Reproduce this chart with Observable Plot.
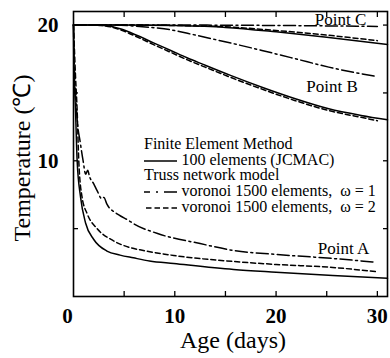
<!DOCTYPE html>
<html>
<head>
<meta charset="utf-8">
<script src="https://cdn.jsdelivr.net/npm/d3@7"></script>
<script src="https://cdn.jsdelivr.net/npm/@observablehq/plot@0.6"></script>
<style>
  html, body { margin: 0; padding: 0; background: white; }
  #wrap { position: relative; width: 390px; height: 358px; font-family: "Times New Roman", "Liberation Serif", Times, serif; }
  .lg { position: absolute; font-size: 16px; line-height: 16px; white-space: pre; color: black; font-family: "Times New Roman", "Liberation Serif", Times, serif; }
  .sw { position: absolute; }
  svg text { font-family: "Times New Roman", "Liberation Serif", Times, serif; }
</style>
</head>
<body>
<div id="wrap"></div>
<script>
// ---- data: [age (days), temperature (°C)] ----
const pointA_FEM = [[0,20],[0.03,17.4],[0.2,13.7],[0.36,10],[0.7,7.3],[1.2,5.4],[2.0,4.2],[3.3,3.35],[4.6,3.05],[5.9,2.85],[7.5,2.62],[9.9,2.43],[15.8,1.99],[20,1.79],[25.6,1.55],[31,1.35]];
const pointA_w2  = [[0,20],[0.2,16.2],[0.36,13.7],[0.52,10],[0.85,7.3],[1.35,6.1],[2.33,5.0],[3.95,4.1],[5.6,3.6],[6.9,3.39],[9.9,3.02],[15.8,2.58],[20,2.36],[25.6,2.14],[30,1.82]];
const pointA_w1  = [[0,20],[0.03,18.6],[0.3,13.7],[0.7,11.2],[0.95,10],[1.2,9.0],[1.4,9.3],[1.6,8.8],[2.0,8.3],[2.33,7.8],[2.8,7.2],[3.0,7.3],[3.3,6.8],[4.15,6.17],[4.6,5.95],[5.45,5.6],[5.9,5.38],[8.3,4.64],[12.5,3.9],[15.8,3.39],[20,3.1],[25.6,2.8],[29.8,2.53]];

const pointB_FEM = [[0,20],[2,20],[3.3,19.95],[4.6,19.73],[6.3,19.23],[7.9,18.69],[9.6,18.13],[11.2,17.59],[12.8,17.1],[15.5,16.29],[18.6,15.42],[21.9,14.57],[25.2,13.83],[28.4,13.34],[31,13.02]];
const pointB_w2  = [[0,20],[2,20],[3.2,19.93],[4.6,19.66],[6.3,19.12],[7.9,18.56],[9.6,17.99],[11.2,17.45],[12.8,16.96],[15.5,16.15],[18.6,15.28],[21.9,14.43],[25.2,13.7],[28.4,13.2],[30,12.95]];
const pointB_w1  = [[0,20],[4,20],[6,19.93],[8,19.8],[9.6,19.65],[11.8,19.3],[14.5,18.85],[18.6,18.13],[21.9,17.52],[25.2,16.9],[30,16.2]];

const pointC_FEM = [[0,20],[5,20],[10,19.96],[15,19.83],[20,19.5],[25,19.1],[31,18.57]];
const pointC_w2  = [[0,20],[5,20],[10,19.97],[15,19.87],[20,19.6],[25,19.26],[30,18.85]];
const pointC_w1  = [[0,20],[10,20],[20,19.97],[30,19.9]];

const xLabelTicks = [10, 20, 30];
const xZeroTick = [0];
const yLabelTicks = [10, 20];
const xMinorTicks = [5, 10, 15, 20, 25, 30];
const yMinorTicks = [5, 10, 15, 20];

const pointLabels = ["Point A", "Point B", "Point C"];
const xTitle = "Age (days)";
const yTitle = "Temperature (℃)";
const legendHeaders = ["Finite Element Method", "Truss network model"];
const legendItems = ["100 elements (JCMAC)", "voronoi 1500 elements,  ω = 1", "voronoi 1500 elements,  ω = 2"];

// ---- styles ----
const SOLID = null, DASH = "5,3", DASHDOT = "12,3.5,2,3.5";
const lineOpts = (dash) => ({x: d => d[0], y: d => d[1], curve: "monotone-x", stroke: "black", strokeWidth: 1.5, strokeDasharray: dash});
const font = "Times New Roman, Liberation Serif, Times, serif";

const chart = Plot.plot({
  width: 390, height: 358,
  marginLeft: 73, marginRight: 3, marginTop: 11, marginBottom: 62,
  x: {domain: [0, 31]},
  y: {domain: [0, 21]},
  style: {fontFamily: font, background: "white", color: "black", overflow: "visible"},
  marks: [
    Plot.line(pointC_w1, lineOpts(DASHDOT)),
    Plot.line(pointC_w2, lineOpts(DASH)),
    Plot.line(pointC_FEM, lineOpts(SOLID)),
    Plot.line(pointB_w1, lineOpts(DASHDOT)),
    Plot.line(pointB_w2, lineOpts(DASH)),
    Plot.line(pointB_FEM, lineOpts(SOLID)),
    Plot.line(pointA_w1, lineOpts(DASHDOT)),
    Plot.line(pointA_w2, lineOpts(DASH)),
    Plot.line(pointA_FEM, lineOpts(SOLID)),
    Plot.frame({stroke: "black", strokeWidth: 1.6}),
    Plot.axisX(xMinorTicks, {anchor: "bottom", tickSize: -5, tickFormat: () => "", label: null, strokeWidth: 1.3}),
    Plot.axisX(xMinorTicks, {anchor: "top", tickSize: -5, tickFormat: () => "", label: null, strokeWidth: 1.3}),
    Plot.axisY(yMinorTicks, {anchor: "left", tickSize: -5, tickFormat: () => "", label: null, strokeWidth: 1.3}),
    Plot.axisY(yMinorTicks, {anchor: "right", tickSize: -5, tickFormat: () => "", label: null, strokeWidth: 1.3}),
    Plot.axisX(xLabelTicks, {anchor: "bottom", tickSize: 0, tickPadding: 12, fontSize: 21, fontWeight: "bold", label: null, tickFormat: d => String(d)}),
    Plot.axisX(xZeroTick, {anchor: "bottom", tickSize: 0, tickPadding: 12, fontSize: 21, fontWeight: "bold", label: null, dx: -6, tickFormat: d => String(d)}),
    Plot.axisY(yLabelTicks, {anchor: "left", tickSize: 0, tickPadding: 15, fontSize: 21, fontWeight: "bold", label: null, tickFormat: d => String(d)}),
    Plot.text([pointLabels[2]], {text: d => d, frameAnchor: "top-left", dx: 267, dy: 8, textAnchor: "middle", lineAnchor: "middle", fontSize: 17}),
    Plot.text([pointLabels[1]], {text: d => d, frameAnchor: "top-left", dx: 258.5, dy: 75, textAnchor: "middle", lineAnchor: "middle", fontSize: 17}),
    Plot.text([pointLabels[0]], {text: d => d, frameAnchor: "top-left", dx: 270, dy: 237, textAnchor: "middle", lineAnchor: "middle", fontSize: 17}),
    Plot.text([xTitle], {text: d => d, frameAnchor: "bottom", dx: 2.5, dy: 44, textAnchor: "middle", lineAnchor: "middle", fontSize: 24}),
    Plot.text([yTitle], {text: d => d, frameAnchor: "left", rotate: -90, dx: -51, dy: 4, textAnchor: "middle", lineAnchor: "middle", fontSize: 24})
  ]
});

const wrap = document.getElementById("wrap");
wrap.appendChild(chart);

// ---- legend overlay ----
function addText(str, left, cy) {
  const d = document.createElement("div");
  d.className = "lg";
  d.textContent = str;
  d.style.left = left + "px";
  d.style.top = (cy - 8) + "px";
  wrap.appendChild(d);
}
function addSwatch(x1, x2, cy, dash) {
  const ns = "http://www.w3.org/2000/svg";
  const s = document.createElementNS(ns, "svg");
  s.setAttribute("class", "sw");
  s.setAttribute("width", x2 - x1 + 2);
  s.setAttribute("height", 6);
  s.style.left = (x1 - 1) + "px";
  s.style.top = (cy - 3) + "px";
  const l = document.createElementNS(ns, "line");
  l.setAttribute("x1", 1); l.setAttribute("x2", x2 - x1 + 1);
  l.setAttribute("y1", 3); l.setAttribute("y2", 3);
  l.setAttribute("stroke", "black");
  l.setAttribute("stroke-width", 1.5);
  if (dash) l.setAttribute("stroke-dasharray", dash);
  s.appendChild(l);
  wrap.appendChild(s);
}
addText(legendHeaders[0], 144, 143.5);
addSwatch(144, 177, 160.5, null);
addText(legendItems[0], 181.5, 159.5);
addText(legendHeaders[1], 144, 175);
addSwatch(144, 177, 191.5, "6,6,2,6,13");
addText(legendItems[1], 181.5, 191);
addSwatch(146, 177, 207.5, "5.5,3");
addText(legendItems[2], 181.5, 207);
</script>
</body>
</html>
